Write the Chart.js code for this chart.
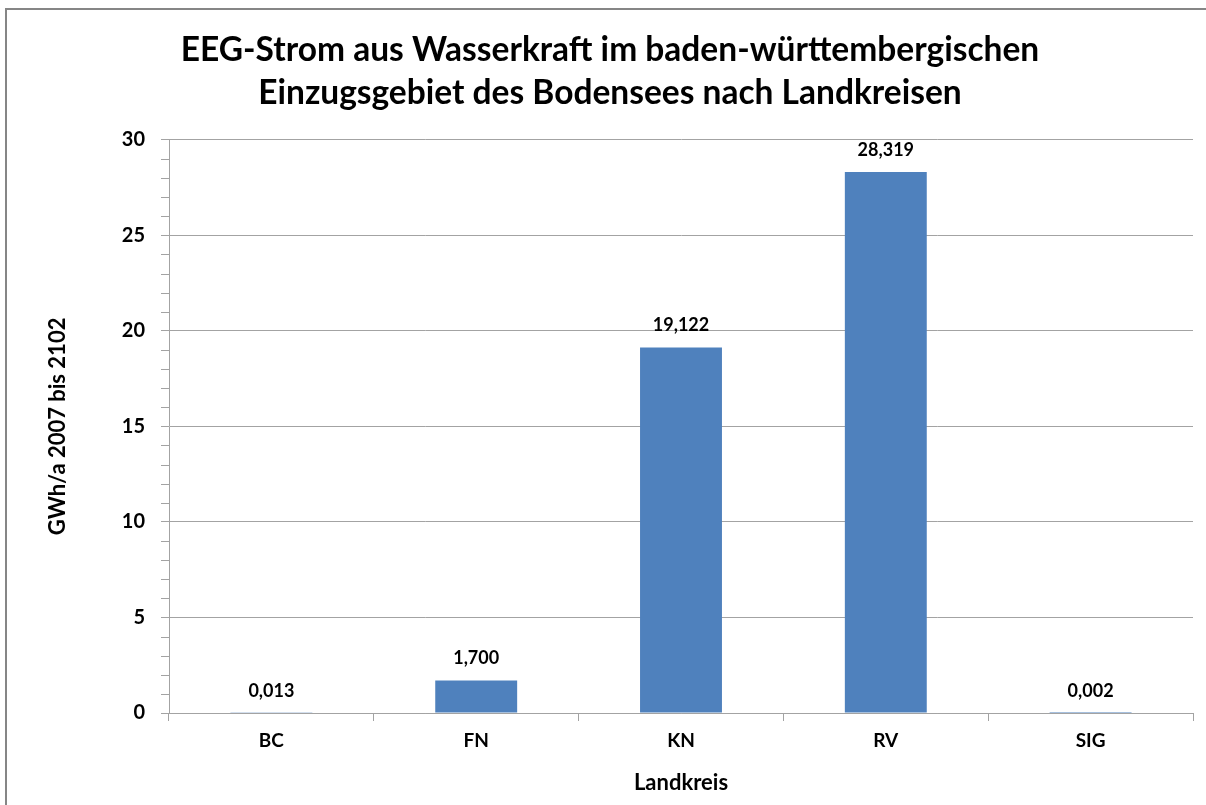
<!DOCTYPE html>
<html>
<head>
<meta charset="utf-8">
<script src="https://cdn.jsdelivr.net/npm/chart.js@4"></script>
<style>
  html, body { margin: 0; padding: 0; background: #fff; }
  #wrap { position: absolute; left: 0; top: 0; width: 1206px; height: 805px; }
</style>
</head>
<body>
<div id="wrap"><canvas id="myChart" width="1206" height="805"></canvas></div>
<script>
// data
const kreise = ['BC', 'FN', 'KN', 'RV', 'SIG'];
const strom = [0.013, 1.700, 19.122, 28.319, 0.002];
const titleLines = ['EEG-Strom aus Wasserkraft im baden-württembergischen', 'Einzugsgebiet des Bodensees nach Landkreisen'];

const fontName = 'Lato, "Open Sans", sans-serif';
const gridGray = '#a3a3a3';

// frame + minor ticks + value labels
const extras = {
  id: 'extras',
  beforeDraw(chart) {
    const ctx = chart.ctx;
    ctx.save();
    ctx.fillStyle = '#fff';
    ctx.fillRect(0, 0, chart.width, chart.height);
    ctx.strokeStyle = '#868686';
    ctx.lineWidth = 2;
    ctx.beginPath();
    ctx.moveTo(6, 805);
    ctx.lineTo(6, 9);
    ctx.lineTo(1206, 9);
    ctx.stroke();
    ctx.restore();
  },
  afterDraw(chart) {
    const ctx = chart.ctx;
    const y = chart.scales.y;
    ctx.save();
    ctx.strokeStyle = gridGray;
    ctx.lineWidth = 1;
    for (let v = 1; v < 30; v++) {
      if (v % 5 === 0) continue;
      const py = Math.round(y.getPixelForValue(v)) + 0.5;
      ctx.beginPath();
      ctx.moveTo(y.right - 8, py);
      ctx.lineTo(y.right, py);
      ctx.stroke();
    }
    ctx.fillStyle = '#000';
    ctx.font = 'bold 18px ' + fontName;
    ctx.textAlign = 'center';
    ctx.textBaseline = 'middle';
    chart.getDatasetMeta(0).data.forEach((bar, i) => {
      const txt = strom[i].toFixed(3).replace('.', ',');
      ctx.fillText(txt, bar.x, bar.y - 22);
    });
    ctx.restore();
  }
};

const data = {
  labels: kreise,
  datasets: [{
    data: strom,
    backgroundColor: '#4F81BD',
    borderWidth: 0,
    barPercentage: 0.4,
    categoryPercentage: 1
  }]
};

const config = {
  type: 'bar',
  data,
  plugins: [extras],
  options: {
    responsive: false,
    animation: false,
    layout: { padding: { left: 27, right: 13, top: 0, bottom: 0 } },
    plugins: {
      legend: { display: false },
      tooltip: { enabled: false },
      title: {
        display: true,
        text: titleLines,
        color: '#000',
        font: { family: fontName, size: 33.5, weight: 'bold', lineHeight: 1.28 },
        padding: { top: 29, bottom: 25 }
      }
    },
    scales: {
      x: {
        offset: true,
        grid: { display: true, drawOnChartArea: false, color: gridGray, tickLength: 8, offset: true },
        border: { color: gridGray },
        ticks: { color: '#000', font: { family: fontName, size: 19, weight: 'bold' }, padding: 8 },
        title: { display: true, text: 'Landkreis', color: '#000', font: { family: fontName, size: 22, weight: 'bold' }, padding: { top: 10, bottom: 9 } },
        afterFit(scale) { scale.height = 92; }
      },
      y: {
        min: 0,
        max: 30,
        ticks: { stepSize: 5, color: '#000', font: { family: fontName, size: 20, weight: 'bold' }, padding: 16 },
        grid: { color: gridGray, tickLength: 8 },
        border: { color: gridGray },
        title: { display: true, text: 'GWh/a 2007 bis 2102', color: '#000', font: { family: fontName, size: 22, weight: 'bold' }, padding: { top: 18, bottom: 0 } },
        afterFit(scale) { scale.width = 142; }
      }
    }
  }
};

const myChart = new Chart(document.getElementById('myChart'), config);
</script>
</body>
</html>
